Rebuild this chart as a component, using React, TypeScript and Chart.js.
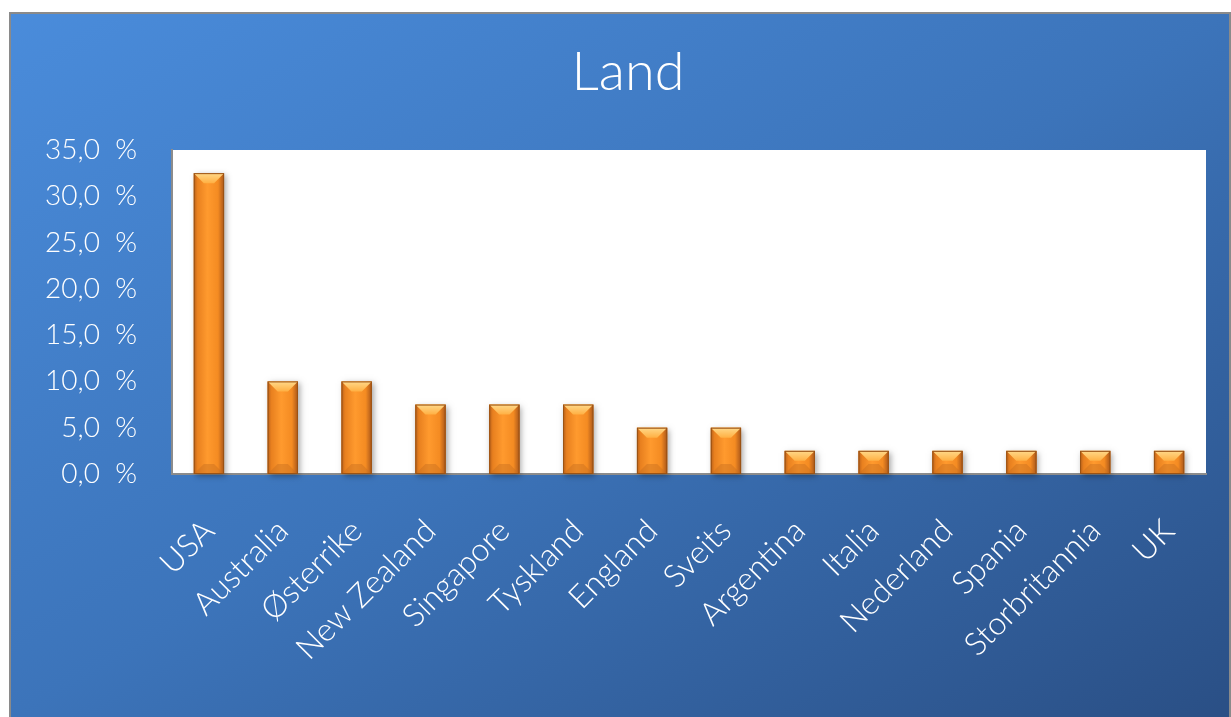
import React, { useEffect, useRef } from "react";
import { Chart, registerables } from "chart.js";

Chart.register(...registerables);

const TITLE = "Land";
const categories = [
  "USA", "Australia", "Østerrike", "New Zealand", "Singapore", "Tyskland", "England",
  "Sveits", "Argentina", "Italia", "Nederland", "Spania", "Storbritannia", "UK",
];
const values = [32.5, 10, 10, 7.5, 7.5, 7.5, 5, 5, 2.5, 2.5, 2.5, 2.5, 2.5, 2.5];
const yMin = 0;
const yMax = 35;
const yStep = 5;

const FONT = "Lato, 'Noto Sans', sans-serif";

const bgPlugin = {
  id: "bg",
  beforeDraw(chart: any) {
    const { ctx, width, height, chartArea } = chart;
    ctx.save();
    const k = (2 * width * height) / (width * width + height * height);
    const g = ctx.createLinearGradient(0, 0, height * k, width * k);
    g.addColorStop(0, "#4A8CDB");
    g.addColorStop(0.5, "#3C74BA");
    g.addColorStop(1, "#2A4F85");
    ctx.fillStyle = g;
    ctx.fillRect(0, 0, width, height);
    ctx.strokeStyle = "#8A8A8A";
    ctx.lineWidth = 2;
    ctx.strokeRect(1, 1, width - 2, height + 4);
    ctx.fillStyle = "#FFFFFF";
    ctx.fillRect(chartArea.left, chartArea.top, chartArea.right - chartArea.left, chartArea.bottom - chartArea.top);
    ctx.fillStyle = "#FFFFFF";
    ctx.font = `300 54px ${FONT}`;
    ctx.textAlign = "center";
    ctx.textBaseline = "middle";
    ctx.fillText(TITLE, width / 2 + 8, 61);
    ctx.restore();
  },
};

const barPlugin = {
  id: "bevelBars",
  afterDatasetsDraw(chart: any) {
    const ctx = chart.ctx;
    const meta = chart.getDatasetMeta(0);
    ctx.save();
    meta.data.forEach((el: any) => {
      const { x, y, base, width } = el.getProps(["x", "y", "base", "width"], true);
      const l = x - width / 2;
      const r = x + width / 2;
      const t = y;
      const b = base;
      const h = b - t;
      ctx.save();
      ctx.shadowColor = "rgba(0,0,0,0.35)";
      ctx.shadowBlur = 6;
      ctx.shadowOffsetX = 2;
      ctx.shadowOffsetY = 2;
      ctx.fillStyle = "#E07F20";
      ctx.fillRect(l, t, width, h);
      ctx.restore();
      const g = ctx.createLinearGradient(l, 0, r, 0);
      g.addColorStop(0, "#B9601A");
      g.addColorStop(0.12, "#E8801F");
      g.addColorStop(0.45, "#FF9A2E");
      g.addColorStop(0.8, "#F48B22");
      g.addColorStop(1, "#A9561A");
      ctx.fillStyle = g;
      ctx.fillRect(l, t, width, h);
      const bv = Math.min(10, width / 2, h / 2);
      const tg = ctx.createLinearGradient(0, t, 0, t + bv);
      tg.addColorStop(0, "#FFD98A");
      tg.addColorStop(1, "#FFB043");
      ctx.fillStyle = tg;
      ctx.beginPath();
      ctx.moveTo(l, t);
      ctx.lineTo(r, t);
      ctx.lineTo(r - bv, t + bv);
      ctx.lineTo(l + bv, t + bv);
      ctx.closePath();
      ctx.fill();
      ctx.fillStyle = "rgba(200,110,30,0.45)";
      ctx.beginPath();
      ctx.moveTo(l, b);
      ctx.lineTo(r, b);
      ctx.lineTo(r - bv, b - bv);
      ctx.lineTo(l + bv, b - bv);
      ctx.closePath();
      ctx.fill();
      ctx.strokeStyle = "#9A5214";
      ctx.lineWidth = 1;
      ctx.strokeRect(l + 0.5, t + 0.5, width - 1, h - 1);
    });
    ctx.restore();
  },
};

export default function App() {
  const ref = useRef<HTMLCanvasElement>(null);
  useEffect(() => {
    if (!ref.current) return;
    const chart = new Chart(ref.current, {
      type: "bar",
      data: {
        labels: categories,
        datasets: [
          {
            data: values,
            backgroundColor: "rgba(0,0,0,0)",
            borderWidth: 0,
            categoryPercentage: 1,
            barPercentage: 0.41,
          },
        ],
      },
      options: {
        animation: false,
        responsive: true,
        maintainAspectRatio: false,
        layout: { padding: { left: 0, right: 25, top: 138, bottom: 0 } },
        plugins: { legend: { display: false }, title: { display: false }, tooltip: { enabled: false } },
        scales: {
          x: {
            grid: { display: false },
            border: { display: true, color: "#8C8C8C", width: 2 },
            ticks: {
              color: "#FFFFFF",
              font: { family: FONT, size: 32, weight: "300" },
              maxRotation: 45,
              minRotation: 45,
              autoSkip: false,
              padding: 30,
            },
            afterFit(scale: any) {
              scale.height = 243;
            },
          },
          y: {
            min: yMin,
            max: yMax,
            grid: { display: false, drawTicks: false },
            border: { display: true, color: "#8C8C8C", width: 2 },
            ticks: {
              stepSize: yStep,
              color: "#FFFFFF",
              font: { family: FONT, size: 28, weight: "300" },
              padding: 35,
              callback: (v: any) => Number(v).toFixed(1).replace(".", ",") + "\u00a0\u00a0%",
            },
            afterFit(scale: any) {
              scale.width = 163;
            },
          },
        },
      },
      plugins: [bgPlugin, barPlugin],
    });
    return () => chart.destroy();
  }, []);
  return (
    <div style={{ position: "absolute", left: 9, top: 12, width: 1222, height: 705 }}>
      <canvas ref={ref} />
    </div>
  );
}
